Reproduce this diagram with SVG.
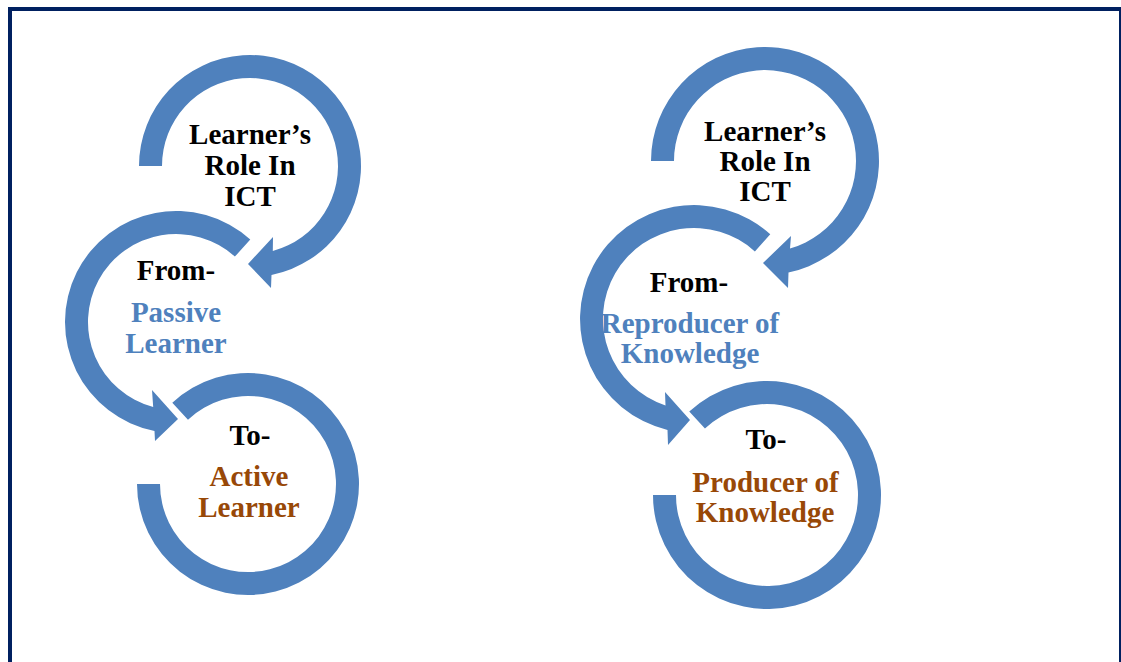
<svg xmlns="http://www.w3.org/2000/svg" width="1121" height="662" viewBox="0 0 1121 662">
  <style>
    .ring { fill: #4F81BD; stroke: none; }
    .t { font-family: "Liberation Serif", "Times New Roman", serif; font-weight: bold; font-size: 29px; text-anchor: middle; }
    .k { fill: #000000; }
    .b { fill: #4F81BD; }
    .o { fill: #984807; }
  </style>
  <rect x="0" y="0" width="1121" height="662" fill="#FFFFFF"/>
  <rect x="10" y="9" width="1111" height="700" fill="none" stroke="#002060" stroke-width="4"/>

  <g id="connectors"/>

  <!-- Left column -->
  <g id="left-role">
    <path class="ring" d="M139 166 A111 111 0 1 1 271.5 274.9 L271 288 L248 264 L273 237 L272.8 251 A88 88 0 1 0 162 166 Z"/>
    <text class="t k" x="250" y="144">Learner’s</text>
    <text class="t k" x="250" y="175">Role In</text>
    <text class="t k" x="250" y="206">ICT</text>
  </g>
  <g id="left-from">
    <path class="ring" d="M250.27 239.51 A111 111 0 1 0 154.5 430.9 L155 441 L178 419 L152 390 L153.2 407 A88 88 0 1 1 234.88 256.61 Z"/>
    <text class="t k" x="176" y="280">From-</text>
    <text class="t b" x="176" y="322">Passive</text>
    <text class="t b" x="176" y="353">Learner</text>
  </g>
  <g id="left-to">
    <path class="ring" d="M137 484 A111 111 0 1 0 172.3 402.81 L187.98 419.64 A88 88 0 1 1 160 484 Z"/>
    <text class="t k" x="250" y="445">To-</text>
    <text class="t o" x="249" y="486">Active</text>
    <text class="t o" x="249" y="517">Learner</text>
  </g>

  <!-- Right column -->
  <g id="right-role">
    <path class="ring" d="M651 161 A114 114 0 1 1 788.5 272.5 L788 288 L763 263 L791 236 L790 248.5 A91 91 0 1 0 674 161 Z"/>
    <text class="t k" x="765" y="141">Learner’s</text>
    <text class="t k" x="765" y="171">Role In</text>
    <text class="t k" x="765" y="201">ICT</text>
  </g>
  <g id="right-from">
    <path class="ring" d="M770.28 234.28 A114 114 0 1 0 667.5 429.9 L668 445 L690 420 L665 392 L665.5 405.4 A91 91 0 1 1 754.89 251.38 Z"/>
    <text class="t k" x="689" y="292">From-</text>
    <text class="t b" x="690" y="333">Reproducer of</text>
    <text class="t b" x="690" y="363">Knowledge</text>
  </g>
  <g id="right-to">
    <path class="ring" d="M653 495 A114 114 0 1 0 689.25 411.62 L704.94 428.44 A91 91 0 1 1 676 495 Z"/>
    <text class="t k" x="766" y="449">To-</text>
    <text class="t o" x="765.5" y="492">Producer of</text>
    <text class="t o" x="765" y="522">Knowledge</text>
  </g>
</svg>
